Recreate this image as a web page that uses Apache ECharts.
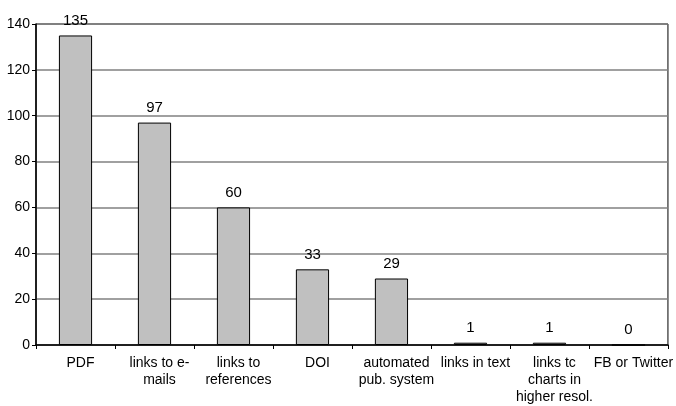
<!DOCTYPE html>
<html><head><meta charset="utf-8">
<script src="https://cdn.jsdelivr.net/npm/echarts@6/dist/echarts.min.js"></script>
<style>html,body{margin:0;padding:0;background:#fff}#c{width:676px;height:406px}</style>
</head><body><div id="c"></div>
<script>
const categories = ["PDF", "links to e-\nmails", "links to\nreferences", "DOI", "automated\npub. system", "links in text", "links tc\ncharts in\nhigher resol.", "FB or Twitter"];
const values = [135, 97, 60, 33, 29, 1, 1, 0];
const yTicks = [0, 20, 40, 60, 80, 100, 120, 140];

const chart = echarts.init(document.getElementById('c'));
chart.setOption({
  animation: false,
  textStyle: { fontFamily: 'Liberation Sans, Arial, sans-serif' },
  grid: { left: 36, right: 6, top: 24, bottom: 60, show: true, borderColor: '#000', borderWidth: 1 },
  xAxis: {
    type: 'category', data: categories,
    axisLine: { lineStyle: { color: '#000', width: 1.5 } },
    axisTick: { show: true, alignWithLabel: false, length: 4, lineStyle: { color: '#000' } },
    axisLabel: { color: '#000', fontSize: 14, lineHeight: 17, interval: 0, margin: 10, padding: [0, 0, 0, 10] }
  },
  yAxis: {
    type: 'value', min: yTicks[0], max: yTicks[yTicks.length - 1], interval: 20,
    axisLine: { show: true, lineStyle: { color: '#000', width: 1.5 } },
    axisTick: { show: true, length: 4, lineStyle: { color: '#000' } },
    axisLabel: { color: '#000', fontSize: 14, margin: 6 },
    splitLine: { lineStyle: { color: '#808080', width: 1.5 } }
  },
  series: [{
    type: 'bar', data: values, barWidth: '42%',
    itemStyle: { color: '#c0c0c0', borderColor: '#000', borderWidth: 1 },
    label: { show: true, position: 'top', color: '#000', fontSize: 15, distance: 7 }
  }]
});
</script></body></html>
